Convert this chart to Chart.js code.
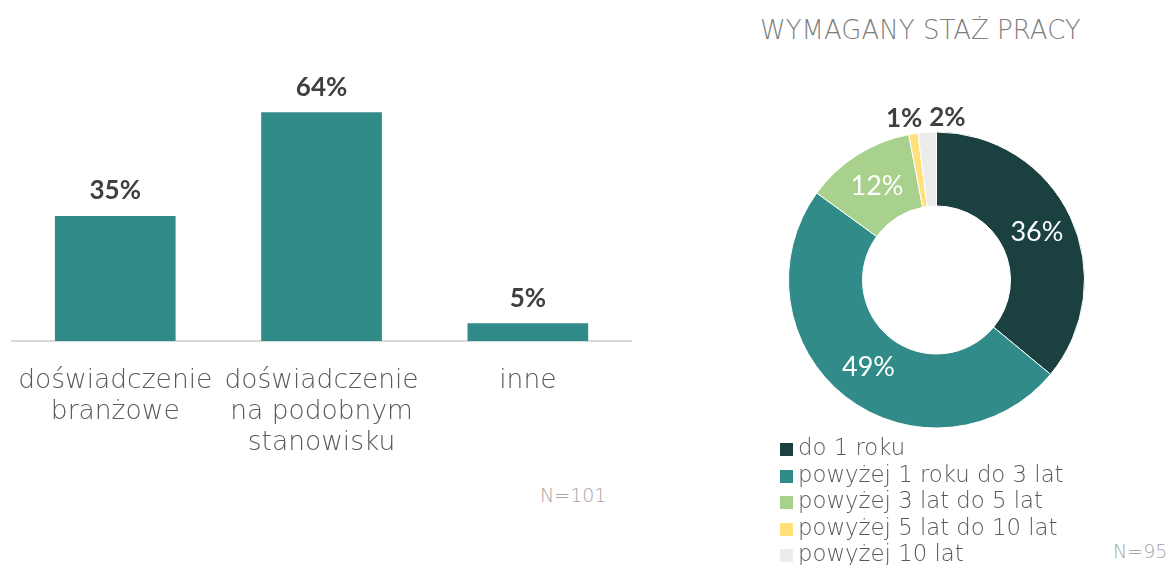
<!DOCTYPE html>
<html lang="pl">
<head>
<meta charset="utf-8">
<script src="https://cdn.jsdelivr.net/npm/chart.js"></script>
<style>
  html, body { margin: 0; padding: 0; background: #fff; }
  body { width: 1168px; height: 565px; position: relative; overflow: hidden; }
  canvas { position: absolute; }
  .note { position: absolute; font-family: 'DejaVu Sans'; font-weight: 200; color: #a6a6a6; font-size: 19px; line-height: 22px; }
  #title { position: absolute; left: 760px; top: 14px; font-family: 'DejaVu Sans'; font-weight: 200; color: #7f7f7f; font-size: 26px; line-height: 32px; white-space: nowrap; }
  #legend { position: absolute; left: 780px; top: 434px; font-family: 'DejaVu Sans'; font-weight: 200; color: #595959; font-size: 22.8px; }
  #legend div { height: 26.5px; line-height: 26.5px; white-space: nowrap; }
  #legend span { display: inline-block; width: 13px; height: 13px; margin-right: 5px; vertical-align: -1px; }
</style>
</head>
<body>
<canvas id="bars" width="640" height="480" style="left:0;top:0"></canvas>
<div class="note" style="left:540px;top:484px">N=101</div>

<div id="title">WYMAGANY STAŻ PRACY</div>
<canvas id="ring" width="357" height="360" style="left:758px;top:100px"></canvas>
<div id="legend"></div>
<div class="note" style="left:1113px;top:540px">N=95</div>

<script>
// lewy wykres: rodzaj doświadczenia
const expLabels = [
  ['doświadczenie', 'branżowe'],
  ['doświadczenie', 'na podobnym', 'stanowisku'],
  ['inne']
];
const expValues = [35, 64, 5];

// prawy wykres: wymagany staż pracy
const stazLabels = [
  'do 1 roku',
  'powyżej 1 roku do 3 lat',
  'powyżej 3 lat do 5 lat',
  'powyżej 5 lat do 10 lat',
  'powyżej 10 lat'
];
const stazValues = [36, 49, 12, 1, 2];
const stazColors = ['#1a4140', '#318b89', '#a9d18e', '#ffe07a', '#ececec'];

const TEAL = '#318b89';

// etykiety nad słupkami
const barValueLabels = {
  id: 'barValueLabels',
  afterDatasetsDraw(chart) {
    const ctx = chart.ctx;
    const meta = chart.getDatasetMeta(0);
    ctx.save();
    ctx.font = 'bold 26px Lato';
    ctx.fillStyle = '#404040';
    ctx.textAlign = 'center';
    ctx.textBaseline = 'middle';
    meta.data.forEach((bar, i) => {
      ctx.fillText(expValues[i] + '%', bar.x, bar.y - 25);
    });
    ctx.restore();
  }
};

new Chart(document.getElementById('bars'), {
  type: 'bar',
  data: {
    labels: expLabels,
    datasets: [{
      data: expValues,
      backgroundColor: TEAL,
      borderWidth: 0,
      categoryPercentage: 1,
      barPercentage: 0.585
    }]
  },
  options: {
    responsive: false,
    animation: false,
    layout: { padding: { left: 7, right: 9, top: 55, bottom: 0 } },
    plugins: { legend: { display: false }, tooltip: { enabled: false } },
    scales: {
      x: {
        grid: { display: false },
        border: { display: true, color: '#d9d9d9', width: 2 },
        ticks: {
          color: '#595959',
          font: { family: 'DejaVu Sans', size: 26.5, weight: 200, lineHeight: 1.17 },
          padding: 17,
          maxRotation: 0,
          autoSkip: false
        },
        afterFit(scale) { scale.height = 139; }
      },
      y: { display: false, min: 0, max: 80 }
    }
  },
  plugins: [barValueLabels]
});

// etykiety procentowe na pierścieniu
const ringLabels = {
  id: 'ringLabels',
  afterDatasetsDraw(chart) {
    const ctx = chart.ctx;
    const meta = chart.getDatasetMeta(0);
    ctx.save();
    ctx.textBaseline = 'middle';
    meta.data.forEach((arc, i) => {
      const txt = stazValues[i] + '%';
      if (stazValues[i] >= 5) {
        const p = arc.tooltipPosition();
        ctx.font = '27px Lato';
        ctx.fillStyle = '#ffffff';
        ctx.textAlign = 'center';
        ctx.fillText(txt, p.x, p.y);
      } else {
        // małe wycinki: etykieta nad pierścieniem
        const mid = (arc.startAngle + arc.endAngle) / 2;
        const ox = arc.x + Math.cos(mid) * arc.outerRadius;
        const oy = arc.y + Math.sin(mid) * arc.outerRadius;
        ctx.font = 'bold 26px Lato';
        ctx.fillStyle = '#404040';
        const first = i === 3;
        ctx.textAlign = first ? 'right' : 'left';
        ctx.fillText(txt, first ? ox + 9 : ox + 2, oy - 15);
      }
    });
    ctx.restore();
  }
};

new Chart(document.getElementById('ring'), {
  type: 'doughnut',
  data: {
    labels: stazLabels,
    datasets: [{
      data: stazValues,
      backgroundColor: stazColors,
      borderColor: '#ffffff',
      borderWidth: 1
    }]
  },
  options: {
    responsive: false,
    animation: false,
    cutout: '50%',
    layout: { padding: 30 },
    plugins: { legend: { display: false }, tooltip: { enabled: false } }
  },
  plugins: [ringLabels]
});

// legenda
const legendEl = document.getElementById('legend');
stazLabels.forEach((lbl, i) => {
  const row = document.createElement('div');
  const sw = document.createElement('span');
  sw.style.background = stazColors[i];
  row.appendChild(sw);
  row.appendChild(document.createTextNode(lbl));
  legendEl.appendChild(row);
});
</script>
</body>
</html>
